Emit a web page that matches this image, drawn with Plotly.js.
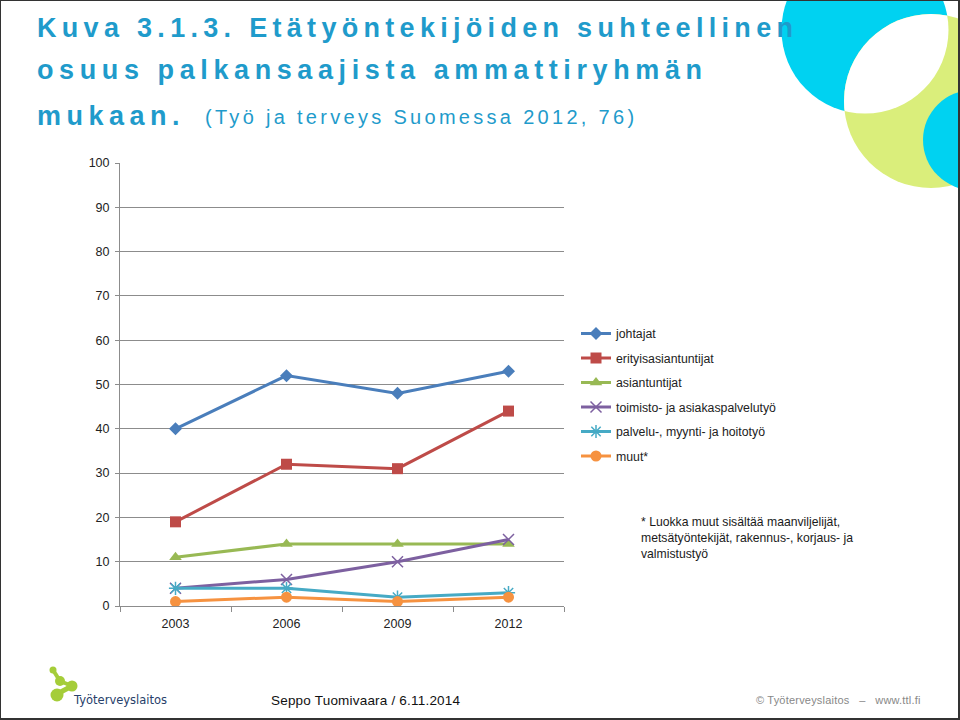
<!DOCTYPE html>
<html>
<head>
<meta charset="utf-8">
<script src="https://cdn.plot.ly/plotly-3.0.1.min.js"></script>
<style>
  html, body { margin:0; padding:0; background:#fff; }
  #wrap { position:relative; width:960px; height:720px; overflow:hidden; }
  #deco { position:absolute; left:0; top:0; z-index:0; }
  #chart { position:absolute; left:0; top:0; z-index:1; width:960px; height:720px; }
</style>
</head>
<body>
<div id="wrap">
<svg id="deco" width="960" height="720" viewBox="0 0 960 720">
  <defs>
    <clipPath id="cyanClip"><circle cx="865" cy="30" r="83.5"/></clipPath>
  </defs>
  <circle cx="865" cy="30" r="83.5" fill="#00D2F1"/>
  <circle cx="931" cy="101" r="87" fill="#DAEE7B"/>
  <circle cx="931" cy="101" r="87" fill="#ffffff" clip-path="url(#cyanClip)"/>
  <circle cx="973" cy="140" r="50" fill="#00D2F1"/>
  <!-- logo -->
  <g fill="#A5CD39" stroke="#A5CD39">
    <line x1="53" y1="670" x2="60" y2="681" stroke-width="4"/>
    <line x1="60" y1="681" x2="72" y2="686" stroke-width="4"/>
    <line x1="72" y1="686" x2="57" y2="694" stroke-width="5"/>
    <circle cx="53" cy="670" r="3.5" stroke="none"/>
    <circle cx="60" cy="681" r="5" stroke="none"/>
    <circle cx="72" cy="686" r="5.5" stroke="none"/>
    <circle cx="57" cy="695" r="6.5" stroke="none"/>
  </g>
  <!-- frame -->
  <rect x="0" y="0" width="960" height="720" fill="none" stroke="#333" stroke-width="2"/>
  <line x1="959" y1="0" x2="959" y2="720" stroke="#333" stroke-width="2"/>
  <line x1="0" y1="719" x2="960" y2="719" stroke="#333" stroke-width="2"/>
</svg>
<div id="chart"></div>
</div>
<script>
// ---- data ----
const years = ['2003', '2006', '2009', '2012'];
const johtajat = [40, 52, 48, 53];
const erityisasiantuntijat = [19, 32, 31, 44];
const asiantuntijat = [11, 14, 14, 14];
const toimisto = [4, 6, 10, 15];
const palvelu = [4, 4, 2, 3];
const muut = [1, 2, 1, 2];
const seriesNames = ['johtajat', 'erityisasiantuntijat', 'asiantuntijat',
  'toimisto- ja asiakaspalvelutyö', 'palvelu-, myynti- ja hoitotyö', 'muut*'];
const yTicks = [0, 10, 20, 30, 40, 50, 60, 70, 80, 90, 100];

// ---- styling ----
const colors = ['#4A7EBB', '#BE4B48', '#98B954', '#7D60A0', '#46AAC5', '#F69240'];
const symbols = ['diamond', 'square', 'triangle-up', 'x-thin-open', 'asterisk-open', 'circle'];
const sizes = [10, 11, 11, 11, 11, 11];
const values = [johtajat, erityisasiantuntijat, asiantuntijat, toimisto, palvelu, muut];

const traces = values.map((v, i) => ({
  type: 'scatter', mode: 'lines+markers',
  x: years, y: v, name: seriesNames[i], legendgroup: 'g' + i,
  line: { color: colors[i], width: 3 },
  marker: { symbol: symbols[i], size: sizes[i], color: colors[i],
            line: { color: colors[i], width: (i === 3 || i === 4) ? 1.5 : 0 } }
}));

// plot area in pixels
const L = 120, R = 564, T = 163, B = 606;
const px = x => (x - L) / (R - L);
const py = y => (B - y) / (B - T);

const titleColor = '#1F9BCB';
const annotations = [
  { text: 'Kuva 3.1.3. Etätyöntekijöiden suhteellinen', x: px(35), y: py(28),
    font: { family: 'Liberation Sans', size: 27, color: titleColor, weight: 'bold' }, ls: 5.3 },
  { text: 'osuus palkansaajista ammattiryhmän', x: px(35), y: py(70),
    font: { family: 'Liberation Sans', size: 27, color: titleColor, weight: 'bold' }, ls: 5.6 },
  { text: 'mukaan.', x: px(35), y: py(116),
    font: { family: 'Liberation Sans', size: 27, color: titleColor, weight: 'bold' }, ls: 5.5 },
  { text: '(Työ ja terveys Suomessa 2012, 76)', x: px(203), y: py(117),
    font: { family: 'Liberation Sans', size: 20, color: titleColor }, ls: 3.3 },
  { text: '* Luokka muut sisältää maanviljelijät,<br>metsätyöntekijät, rakennus-, korjaus- ja<br>valmistustyö',
    x: px(639), y: py(538), align: 'left',
    font: { family: 'Liberation Sans', size: 12.2, color: '#1a1a1a' } },
  { text: 'Työterveyslaitos', x: px(71), y: py(700),
    font: { family: 'DejaVu Sans', size: 11.5, color: '#27406A' } },
  { text: 'Seppo Tuomivaara / 6.11.2014', x: px(269), y: py(700),
    font: { family: 'Liberation Sans', size: 13.5, color: '#111' }, ls: 0.2 },
  { text: '© Työterveyslaitos   –   www.ttl.fi', x: px(754), y: py(700),
    font: { family: 'Liberation Sans', size: 11, color: '#888' }, ls: 0.2 }
].map(a => Object.assign({
  xref: 'paper', yref: 'paper', xanchor: 'left', yanchor: 'middle',
  showarrow: false, align: 'left'
}, a));

const tickFont = { family: 'Liberation Sans', size: 12.5, color: '#222' };
const layout = {
  width: 960, height: 720,
  margin: { l: L, r: 960 - R, t: T, b: 720 - B, pad: 0 },
  paper_bgcolor: 'rgba(0,0,0,0)', plot_bgcolor: 'rgba(0,0,0,0)',
  font: { family: 'Liberation Sans', size: 12, color: '#222' },
  showlegend: true,
  legend: { x: px(576), y: py(319), xanchor: 'left', yanchor: 'top',
            bgcolor: 'rgba(0,0,0,0)', tracegroupgap: 5.5,
            font: { family: 'Liberation Sans', size: 12.3, color: '#222' } },
  xaxis: { type: 'category', categoryorder: 'array', categoryarray: years,
           range: [-0.5, 3.5], showline: true, linecolor: '#8c8c8c', linewidth: 1,
           ticks: 'outside', tickson: 'boundaries', ticklen: 5, tickcolor: '#8c8c8c',
           ticklabelstandoff: 6,
           showgrid: false, zeroline: false, fixedrange: true, tickfont: tickFont },
  yaxis: { range: [0, 100], tickvals: yTicks, ticktext: yTicks.map(String),
           showline: true, linecolor: '#8c8c8c', linewidth: 1,
           ticks: 'outside', ticklen: 4, tickcolor: '#8c8c8c',
           ticklabelstandoff: 3,
           showgrid: true, gridcolor: '#8c8c8c', gridwidth: 1, zeroline: false,
           fixedrange: true, tickfont: tickFont },
  annotations: annotations.map(a => { const c = Object.assign({}, a); delete c.ls; return c; })
};

Plotly.newPlot('chart', traces, layout, { displayModeBar: false, staticPlot: true }).then(() => {
  const texts = document.querySelectorAll('#chart .annotation-text');
  annotations.forEach((a, i) => {
    if (texts[i] && a.ls) texts[i].style.letterSpacing = a.ls + 'px';
  });
});
</script>
</body>
</html>
